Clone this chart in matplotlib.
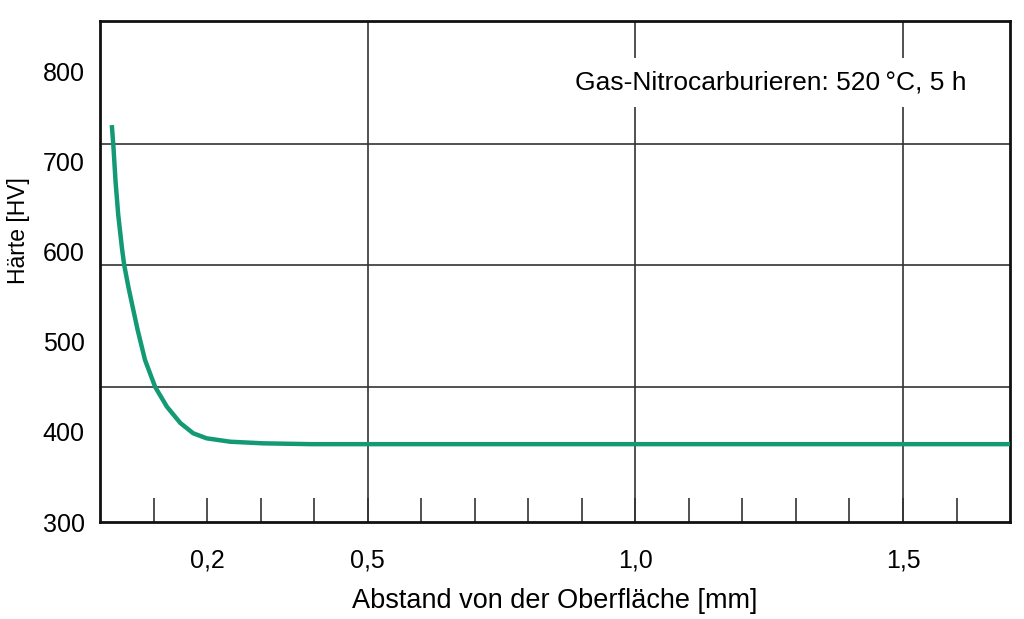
import matplotlib
matplotlib.use("Agg")
import matplotlib.pyplot as plt

# curve: distance from surface (mm) vs hardness (HV)
dist_mm = [0.022, 0.025, 0.029, 0.034, 0.041, 0.045, 0.053, 0.062, 0.070, 0.084,
           0.103, 0.125, 0.150, 0.174, 0.199, 0.243, 0.305, 0.393, 0.600, 1.000,
           1.400, 1.700]
hardness_hv = [741, 717, 678, 641, 604, 586, 561, 536, 514, 480,
               450, 428, 410, 398.6, 393, 389.2, 387.4, 386.5, 386.5, 386.5,
               386.5, 386.5]

grid_hv = [450, 585, 720]
grid_mm = [0.5, 1.0, 1.5]
ytick_values = [300, 400, 500, 600, 700, 800]
xtick_values = [0.1, 0.2, 0.3, 0.4, 0.5, 0.6, 0.7, 0.8, 0.9, 1.0,
                1.1, 1.2, 1.3, 1.4, 1.5, 1.6]
xtick_labels = {0.2: "0,2", 0.5: "0,5", 1.0: "1,0", 1.5: "1,5"}

note = "Gas-Nitrocarburieren: 520\u2009°C, 5 h"

plt.rcParams['font.family'] = ['Liberation Sans', 'DejaVu Sans']

fig = plt.figure(figsize=(10.24, 6.19), dpi=100)
ax = fig.add_axes([0.0977, 0.1567, 0.8887, 0.8099])

for h in grid_hv:
    ax.axhline(h, color='#333333', lw=1.2, zorder=1)
for d in grid_mm:
    ax.axvline(d, color='#333333', lw=1.2, zorder=1)

ax.plot(dist_mm, hardness_hv, color='#139a74', lw=3.2, zorder=3,
        solid_capstyle='butt', solid_joinstyle='round')

ax.set_xlim(0, 1.70)
ax.set_ylim(300, 857)

ax.set_yticks(ytick_values)
ax.set_yticklabels([str(v) for v in ytick_values], fontsize=18)
ax.tick_params(axis='y', length=0, pad=11)

ax.set_xticks(xtick_values)
ax.set_xticklabels([xtick_labels.get(round(v, 1), "") for v in xtick_values],
                   fontsize=18)
ax.tick_params(axis='x', direction='in', length=17, width=1.2, color='#333333',
               pad=19)

for side in ['left', 'bottom', 'top', 'right']:
    ax.spines[side].set_linewidth(2.0)
    ax.spines[side].set_color('#111111')

ax.text(1.252, 788, note, ha='center', va='center', fontsize=19, zorder=4,
        bbox=dict(facecolor='white', edgecolor='none', pad=9))

fig.text(0.5420, 0.029, "Abstand von der Oberfläche [mm]", ha='center',
         va='center', fontsize=19.5)
fig.text(0.018, 0.628, "Härte [HV]", ha='center', va='center',
         rotation=90, fontsize=16.5)

fig.savefig("out.png", dpi=100)
